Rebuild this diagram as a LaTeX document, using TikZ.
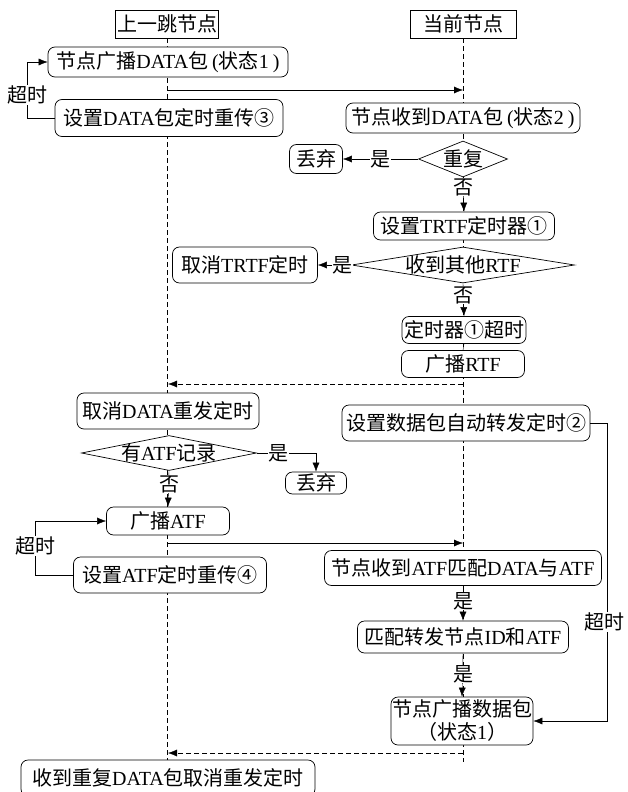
\documentclass[tikz,border=0pt]{standalone}
\usepackage{fontspec}
\setmainfont{Noto Sans CJK SC}
\newfontfamily\serifLat{Liberation Serif}
\newcommand{\Ltn}[1]{{\serifLat #1}}
\usetikzlibrary{shapes.geometric,arrows.meta,calc,backgrounds}

\begin{document}
\begin{tikzpicture}[x=1pt, y=-1pt, line width=0.7pt, >={Latex[length=9pt,width=7pt]}]
	\tikzstyle{every node} = [font=\fontsize{20}{23}\selectfont, inner sep=1pt]
	\tikzstyle{head} = [rectangle, draw=black, fill=white, minimum height=28]
	\tikzstyle{proc} = [rectangle, rounded corners=7pt, draw=black, fill=white, minimum height=30]
	\tikzstyle{cond} = [diamond, draw=black, fill=white, inner sep=0pt, text height=14pt, text depth=0pt]
	\tikzstyle{life} = [dash pattern=on 5pt off 3pt]
	\tikzstyle{lbl} = [fill=white, inner sep=0.5pt]
\useasboundingbox (0,0) rectangle (628,792);
% two nodes
\node[head, minimum width=103] (hdrL) at (167,24) {上一跳节点};
\node[head, minimum width=106] (hdrR) at (463,24) {当前节点};
% previous hop, DATA
\node[proc, minimum width=240] (sendData) at (168,62) {节点广播\Ltn{DATA}包\hspace{4pt}\Ltn{(}状态\Ltn{1}\hspace{4pt}\Ltn{)}};
\node[proc, minimum width=228, minimum height=37] (setRetx) at (169,118) {设置\Ltn{DATA}包定时重传③};
% current node, DATA
\node[proc, minimum width=234] (recvData) at (463,118) {节点收到\Ltn{DATA}包\hspace{4pt}\Ltn{(}状态\Ltn{2}\hspace{4pt}\Ltn{)}};
\node[cond, minimum width=89, minimum height=36, aspect=2.5] (dup) at (463,159) {重复};
\node[proc, minimum width=53, minimum height=29] (drop1) at (316,159) {丢弃};
\node[proc, minimum width=181, minimum height=28] (setTrtf) at (464,226) {设置\Ltn{TRTF}定时器①};
\node[cond, minimum width=223, minimum height=36, aspect=6.2] (otherRtf) at (463,265) {收到其他\Ltn{RTF}};
\node[proc, minimum width=145, minimum height=36] (cancelTrtf) at (245,265) {取消\Ltn{TRTF}定时};
\node[proc, minimum width=124, minimum height=27] (trtfOut) at (464,330) {定时器①超时};
\node[proc, minimum width=123, minimum height=27] (bcastRtf) at (463,364) {广播\Ltn{RTF}};
% ATF part
\node[proc, minimum width=182, minimum height=36] (cancelData) at (168,411) {取消\Ltn{DATA}重发定时};
\node[proc, minimum width=248, minimum height=36] (setAuto) at (466,423) {设置数据包自动转发定时②};
\node[cond, minimum width=175, minimum height=35, aspect=5] (hasAtf) at (169,453) {有\Ltn{ATF}记录};
\node[proc, minimum width=61, minimum height=22] (drop2) at (316,483) {丢弃};
\node[proc, minimum width=123, minimum height=28] (bcastAtf) at (168,521) {广播\Ltn{ATF}};
\node[proc, minimum width=193, minimum height=36] (setAtf) at (170,575) {设置\Ltn{ATF}定时重传④};
\node[proc, minimum width=277, minimum height=35] (recvAtf) at (463,568) {节点收到\Ltn{ATF}匹配\Ltn{DATA}与\Ltn{ATF}};
\node[proc, minimum width=211, minimum height=32] (matchId) at (463,637) {匹配转发节点\Ltn{ID}和\Ltn{ATF}};
\node[proc, minimum width=139, minimum height=48, align=center] (fwdData) at (462,721) {节点广播数据包\\（状态\Ltn{1}）};
\node[proc, minimum width=294, minimum height=36] (dupRecv) at (168,778) {收到重复\Ltn{DATA}包取消重发定时};
% message ends on the lifelines
\coordinate (m1a) at (168,90);
\coordinate (m1b) at (463,90);
\coordinate (m2a) at (463,384);
\coordinate (m2b) at (168,384);
\coordinate (m3a) at (168,543);
\coordinate (m3b) at (463,543);
\coordinate (m4a) at (463,753);
\coordinate (m4b) at (168,753);
\coordinate (endR) at (463,762);
\begin{pgfonlayer}{background}
	\path[draw][life] (hdrL.south) -- (hdrL.south |- dupRecv.north);
	\path[draw][life] (hdrR.south) -- (endR);
\end{pgfonlayer}
	\path[draw][->] (m1a) -- (m1b);
	\path[draw][->, life] (m2a) -- (m2b);
	\path[draw][->] (m3a) -- (m3b);
	\path[draw][->, life] (m4a) -- (m4b);
	\path[draw][->] (setRetx.west) -- ++(-27,0) |- (sendData.west);
	\path[draw][->] (dup.west) -- (drop1.east);
	\path[draw][->] (dup.south) -- (setTrtf.north);
	\path[draw][->] (otherRtf.west) -- (cancelTrtf.east);
	\path[draw][->] (otherRtf.south) -- (trtfOut.north);
	\path[draw] (trtfOut.south) -- (bcastRtf.north);
	\path[draw][->] (hasAtf.east) -| (drop2.north);
	\path[draw][->] (hasAtf.south) -- (bcastAtf.north);
	\path[draw][->] (setAtf.west) -- ++(-38,0) |- (bcastAtf.west);
	\path[draw][->] (recvAtf.south) -- (matchId.north);
	\path[draw][->] (matchId.south) -- (fwdData.north);
	\path[draw][->] (setAuto.east) -- ++(17,0) |- (fwdData.east);
\node[lbl] (to1) at (27,95) {超时};
\node[lbl] (to2) at (36,546) {超时};
\node[lbl] (to3) at (604,622) {超时};
\node[lbl] (y1) at (380,159) {是};
\node[lbl] (n1) at (463,187) {否};
\node[lbl] (y2) at (342,265) {是};
\node[lbl] (n2) at (463,295) {否};
\node[lbl] (y3) at (278,453) {是};
\node[lbl] (n3) at (169,484) {否};
\node[lbl] (y4) at (463,601) {是};
\node[lbl] (y5) at (463,674) {是};
\end{tikzpicture}
\end{document}
